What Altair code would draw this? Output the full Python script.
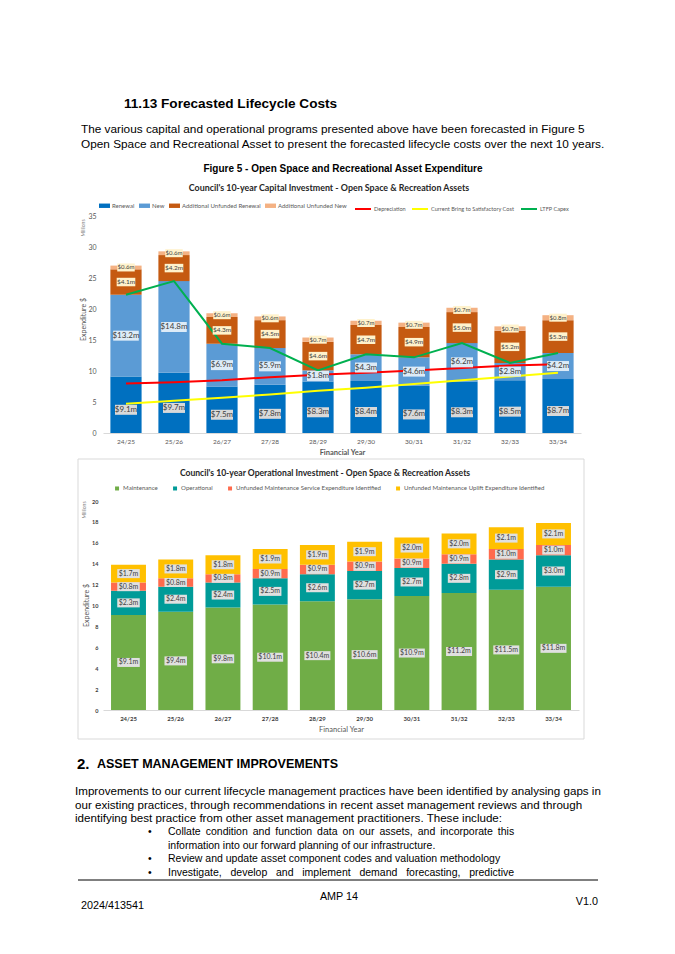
import altair as alt
import pandas as pd

# ---------------- data ----------------
YEARS = ["24/25", "25/26", "26/27", "27/28", "28/29", "29/30", "30/31", "31/32", "32/33", "33/34"]

CAP_SERIES = ["Renewal", "New", "Additional Unfunded Renewal", "Additional Unfunded New"]
RENEWAL = [9.1, 9.7, 7.5, 7.8, 8.3, 8.4, 7.6, 8.3, 8.5, 8.7]
NEW = [13.2, 14.8, 6.9, 5.9, 1.8, 4.3, 4.6, 6.2, 2.8, 4.2]
UNF_RENEWAL = [4.1, 4.2, 4.3, 4.5, 4.6, 4.7, 4.9, 5.0, 5.2, 5.3]
UNF_NEW = [0.6, 0.6, 0.6, 0.6, 0.7, 0.7, 0.7, 0.7, 0.7, 0.8]

LINE_SERIES = ["Depreciation", "Current Bring to Satisfactory Cost", "LTFP Capex"]
DEPRECIATION = [8.0, 8.2, 8.5, 9.0, 9.4, 9.7, 10.1, 10.5, 10.9, 11.1]
BRING_TO_SAT = [4.7, 5.2, 5.7, 6.2, 6.8, 7.3, 7.9, 8.5, 9.1, 9.7]
LTFP_CAPEX = [22.3, 24.5, 14.4, 13.7, 10.1, 12.7, 12.2, 14.5, 11.3, 12.9]

OPS_SERIES = ["Maintenance", "Operational",
              "Unfunded Maintenance Service Expenditure Identified",
              "Unfunded Maintenance Uplift Expenditure Identified"]
MAINTENANCE = [9.1, 9.4, 9.8, 10.1, 10.4, 10.6, 10.9, 11.2, 11.5, 11.8]
OPERATIONAL = [2.3, 2.4, 2.4, 2.5, 2.6, 2.7, 2.7, 2.8, 2.9, 3.0]
UNF_SERVICE = [0.8, 0.8, 0.8, 0.9, 0.9, 0.9, 0.9, 0.9, 1.0, 1.0]
UNF_UPLIFT = [1.7, 1.8, 1.8, 1.9, 1.9, 1.9, 2.0, 2.0, 2.1, 2.1]

CAP_TICKS = [0, 5, 10, 15, 20, 25, 30, 35]
OPS_TICKS = [0, 2, 4, 6, 8, 10, 12, 14, 16, 18, 20]


def long_table(series, arrays, name):
    rows = []
    for i, (s, vals) in enumerate(zip(series, arrays)):
        for y, v in zip(YEARS, vals):
            rows.append({"year": y, name: s, "ord": i, "value": v})
    return pd.DataFrame(rows)


cap_df = long_table(CAP_SERIES, [RENEWAL, NEW, UNF_RENEWAL, UNF_NEW], "series")
line_df = long_table(LINE_SERIES, [DEPRECIATION, BRING_TO_SAT, LTFP_CAPEX], "lseries")
ops_df = long_table(OPS_SERIES, [MAINTENANCE, OPERATIONAL, UNF_SERVICE, UNF_UPLIFT], "oseries")

# ---------------- styling ----------------
ARIAL = "Liberation Sans"
CF = "Lato"
X0 = 102
T_HEAD, T_C1, T_C2, T_FOOT = 8, 215, 500, 777
GAP = 68
W1, H1 = 478, 217
W2, H2 = 476, 209
ONE = pd.DataFrame({"k": [0]})

CAP_COLORS = ["#0070C0", "#5B9BD5", "#C55A11", "#F4B183"]
LINE_COLORS = ["#FF0000", "#FFFF00", "#00B050"]
OPS_COLORS = ["#70AD47", "#009B98", "#FF6B4D", "#FFC000"]

NB = "\u00a0"
TH = "\u2009"


def txt(s, px, py, top, size, bold=False, align="left", color="black", font=ARIAL, angle=0):
    kw = dict(text=s, align=align, baseline="middle", fontSize=size,
              fontWeight="bold" if bold else "normal", color=color, font=font)
    if angle:
        kw["angle"] = angle
    return alt.Chart(ONE).mark_text(**kw).encode(x=alt.value(px - X0), y=alt.value(py - top))


# ---------------- header ----------------
anchor = alt.Chart(ONE).mark_rule(color="white", strokeWidth=1).encode(
    x=alt.value(8 - X0), y=alt.value(0), y2=alt.value(1))

header = alt.layer(
    anchor,
    txt("11.13 Forecasted Lifecycle Costs", 123, 103, T_HEAD, 13.6, bold=True),
    txt("The various capital and operational programs presented above have been forecasted in Figure 5",
        80, 128, T_HEAD, 11.8),
    txt("Open Space and Recreational Asset to present the forecasted lifecycle costs over the next 10 years.",
        80, 143, T_HEAD, 11.8),
    txt("Figure 5 - Open Space and Recreational Asset Expenditure", 342, 168, T_HEAD, 10,
        bold=True, align="center"),
).properties(width=W1, height=T_C1 - GAP - T_HEAD)

# ---------------- chart 1 ----------------
X1 = alt.X("year:N", sort=YEARS,
           scale=alt.Scale(paddingInner=0.35, paddingOuter=0.154),
           axis=alt.Axis(title="Financial Year", titleFont=CF, titleFontSize=7.5, titleFontWeight="bold",
                         titleColor="#595959", titleX=239, titleY=19, titleAlign="center",
                         titleBaseline="middle", labelFont=CF, labelFontSize=6.5, labelColor="#595959",
                         labelAngle=0, labelPadding=5, ticks=False, tickSize=0,
                         domainColor="#D9D9D9", grid=False))
SC1 = alt.Scale(domain=[0, 35], nice=False)
AY1 = alt.Axis(title="Expenditure $", titleFont=CF, titleFontSize=7, titleFontWeight="normal",
               titleColor="#595959", titleX=-20, titleY=103, titleAngle=270, titleAlign="center",
               titleBaseline="middle", values=CAP_TICKS, labelFont=CF, labelFontSize=7,
               labelColor="#595959", labelPadding=7, ticks=False, tickSize=0, domain=False, grid=False)

bars1 = alt.Chart(cap_df).mark_bar().encode(
    x=X1,
    y=alt.Y("value:Q", stack="zero", scale=SC1, axis=AY1),
    fill=alt.Fill("series:N", scale=alt.Scale(domain=CAP_SERIES, range=CAP_COLORS),
                  legend=alt.Legend(orient="none", legendX=-4, legendY=-16, direction="horizontal",
                                    title=None, symbolType="M-1,-0.4L1,-0.4L1,0.4L-1,0.4Z",
                                    symbolSize=121, symbolStrokeWidth=0, labelFont=CF,
                                    labelFontSize=6.0, labelColor="#595959", columnPadding=4,
                                    labelOffset=2, labelLimit=300)),
    order=alt.Order("ord:Q", sort="ascending"),
)

lines1 = alt.Chart(line_df).mark_line(strokeWidth=2).encode(
    x=X1,
    y=alt.Y("value:Q", scale=SC1, axis=AY1),
    stroke=alt.Stroke("lseries:N", scale=alt.Scale(domain=LINE_SERIES, range=LINE_COLORS),
                      legend=alt.Legend(orient="none", legendX=251, legendY=-16, direction="horizontal",
                                        title=None, symbolType="stroke", symbolSize=256,
                                        symbolStrokeWidth=2, labelFont=CF, labelFontSize=5.6,
                                        labelColor="#595959", columnPadding=2, labelOffset=2,
                                        labelLimit=300)),
)


def label_layers(df, field, series, X, scale, axis, fs, box, ink, k, pad, dy=0):
    base = alt.Chart(df).transform_stack(
        stack="value", groupby=["year"], as_=["v0", "v1"],
        sort=[alt.SortField("ord", order="ascending")]
    ).transform_calculate(
        mid="(datum.v0 + datum.v1) / 2",
        label="'$' + format(datum.value, '.1f') + 'm'",
    ).transform_filter(alt.datum[field] == series).transform_calculate(
        bw=f"length(datum.label) * {k} + {pad}"
    )
    boxes = base.mark_tick(orient="horizontal", thickness=fs + 2, color=box, opacity=1,
                           yOffset=dy).encode(
        x=X, y=alt.Y("mid:Q", scale=scale, axis=axis),
        size=alt.Size("bw:Q", scale=None, legend=None))
    texts = base.mark_text(font=CF, fontSize=fs, color=ink, baseline="middle", yOffset=dy).encode(
        x=X, y=alt.Y("mid:Q", scale=scale, axis=axis), text="label:N")
    return [boxes, texts]


cap_label_style = [
    ("Renewal", 8, "#D9D9D9", "#404040", 5),
    ("New", 8, "#DDEBF7", "#404040", 0),
    ("Additional Unfunded Renewal", 6.5, "#FFF2CC", "#404040", 0),
    ("Additional Unfunded New", 6, "#FFF2CC", "#404040", 0),
]
cap_labels = []
for s, fs, box, ink, dy in cap_label_style:
    cap_labels += label_layers(cap_df, "series", s, X1, SC1, AY1, fs, box, ink, fs * 0.45, 4, dy)

chart1 = alt.layer(
    bars1, lines1, *cap_labels,
    txt("Council's 10-year Capital Investment - Open Space & Recreation Assets", 328, 187, T_C1, 8.9,
        bold=True, align="center", color="#262626", font=CF),
    txt("Millions", 82, 227, T_C1, 5, align="center", color="#7F7F7F", font=CF, angle=270),
).properties(width=W1, height=H1)

# ---------------- chart 2 ----------------
X2 = alt.X("year:N", sort=YEARS,
           scale=alt.Scale(paddingInner=0.26, paddingOuter=0.17),
           axis=alt.Axis(title="Financial Year", titleFont=CF, titleFontSize=7.5, titleFontWeight="normal",
                         titleColor="#595959", titleX=238, titleY=19, titleAlign="center",
                         titleBaseline="middle", labelFont=CF, labelFontSize=6, labelFontWeight="bold",
                         labelColor="#404040", labelAngle=0, labelPadding=5, ticks=False, tickSize=0,
                         domainColor="#D9D9D9", grid=False))
SC2 = alt.Scale(domain=[0, 20], nice=False)
AY2 = alt.Axis(title="Expenditure $", titleFont=CF, titleFontSize=7, titleFontWeight="normal",
               titleColor="#595959", titleX=-17, titleY=104, titleAngle=270, titleAlign="center",
               titleBaseline="middle", values=OPS_TICKS, labelFont=CF, labelFontSize=5.5,
               labelFontWeight="bold", labelColor="#404040", labelPadding=5, ticks=False, tickSize=0,
               domain=False, grid=False)

frame2 = alt.Chart(ONE).mark_rect(fill="white", fillOpacity=0, stroke="#D9D9D9", strokeWidth=1).encode(
    x=alt.value(77 - X0), x2=alt.value(583 - X0), y=alt.value(458 - T_C2), y2=alt.value(738 - T_C2))

bars2 = alt.Chart(ops_df).mark_bar().encode(
    x=X2,
    y=alt.Y("value:Q", stack="zero", scale=SC2, axis=AY2),
    fill=alt.Fill("oseries:N", scale=alt.Scale(domain=OPS_SERIES, range=OPS_COLORS),
                  legend=alt.Legend(orient="none", legendX=11, legendY=-16, direction="horizontal",
                                    title=None, symbolType="square", symbolSize=16,
                                    symbolStrokeWidth=0, labelFont=CF, labelFontSize=6.1,
                                    labelColor="#595959", columnPadding=14, labelOffset=3,
                                    labelLimit=300)),
    order=alt.Order("ord:Q", sort="ascending"),
)

ops_labels = []
for s in OPS_SERIES:
    ops_labels += label_layers(ops_df, "oseries", s, X2, SC2, AY2, 7, "#E0E0E0", "#404040", 3.5, 5)

chart2 = alt.layer(
    frame2, bars2, *ops_labels,
    txt("Council's 10-year Operational Investment - Open Space & Recreation Assets", 324, 472, T_C2, 8.6,
        bold=True, align="center", color="#262626", font=CF),
    txt("Millions", 83, 509, T_C2, 5, align="center", color="#7F7F7F", font=CF, angle=270),
).properties(width=W2, height=H2)

# ---------------- footer ----------------
rule = alt.Chart(ONE).mark_rule(color="black", strokeWidth=1).encode(
    x=alt.value(77 - X0), x2=alt.value(597 - X0), y=alt.value(879 - T_FOOT))

collate = ("Collate condition and function data on our assets, and incorporate this").replace(" ", " " + TH)
investigate = ("Investigate, develop and implement demand forecasting, predictive").replace(" ", " " + NB + NB)

footer = alt.layer(
    txt("2.", 76, 763, T_FOOT, 15, bold=True),
    txt("ASSET MANAGEMENT IMPROVEMENTS", 96, 763, T_FOOT, 12.5, bold=True),
    txt("Improvements to our current lifecycle management practices have been identified by analysing gaps in",
        74, 791, T_FOOT, 11.6),
    txt("our existing practices, through recommendations in recent asset management reviews and through",
        74, 804.5, T_FOOT, 11.6),
    txt("identifying best practice from other asset management practitioners. These include:",
        74, 818, T_FOOT, 11.6),
    txt("•", 147, 831, T_FOOT, 10.5),
    txt(collate, 167, 831, T_FOOT, 10.5),
    txt("information into our forward planning of our infrastructure.", 167, 844.5, T_FOOT, 10.5),
    txt("•", 147, 858, T_FOOT, 10.5),
    txt("Review and update asset component codes and valuation methodology", 167, 858, T_FOOT, 10.5),
    txt("•", 147, 871.5, T_FOOT, 10.5),
    txt(investigate, 167, 871.5, T_FOOT, 10.5),
    rule,
    txt("AMP 14", 338, 896, T_FOOT, 10.8, align="center"),
    txt("2024/413541", 80, 905, T_FOOT, 10.8),
    txt("V1.0", 597, 901, T_FOOT, 10.8, align="right"),
).properties(width=W1, height=140)

chart = alt.vconcat(header, chart1, chart2, footer, spacing=GAP, bounds="flush").resolve_scale(
    x="independent", y="independent", fill="independent", stroke="independent"
).resolve_legend(fill="independent", stroke="independent").properties(
    padding=0, background="white"
).configure_view(strokeWidth=0)

chart.save("out.html", embed_options={"renderer": "svg", "actions": False})
